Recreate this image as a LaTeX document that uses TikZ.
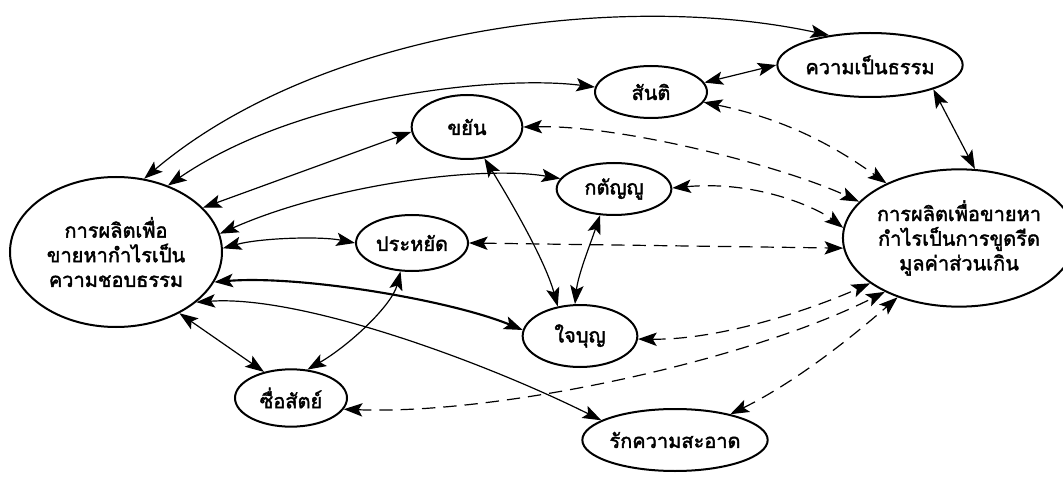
\documentclass[tikz,border=0pt]{standalone}
\usepackage{fontspec}
\newfontfamily\thai[Script=Thai,FakeBold=2]{Loma}
\usetikzlibrary{shapes.geometric,arrows.meta}
\tikzset{
  el/.style={ellipse, draw, line width=1.5pt, inner sep=0pt, align=center,
    font=\thai\fontsize{15}{18.5}\selectfont},
  con/.style={line width=0.9pt, {Stealth[length=14pt,width=10pt,inset=3pt]}-{Stealth[length=14pt,width=10pt,inset=3pt]}},
  dcon/.style={con, dash pattern=on 10pt off 6pt},
}
\begin{document}
\begin{tikzpicture}[x=0.75pt,y=-0.75pt]
\useasboundingbox (0,0) rectangle (1063,477);
\node[el, minimum width=159pt, minimum height=112.5pt] (L) at (116,252) {การผลิตเพื่อ\\ขายหากำไรเป็น\\ความชอบธรรม};
\node[el, minimum width=151.5pt, minimum height=103pt] (R) at (959,238) {การผลิตเพื่อขายหา\\กำไรเป็นการขูดรีด\\มูลค่าส่วนเกิน};
\node[el, minimum width=84pt, minimum height=39pt] (S) at (651,92) {สันติ};
\node[el, minimum width=139pt, minimum height=48pt] (KP) at (870,65) {ความเป็นธรรม};
\node[el, minimum width=83pt, minimum height=48pt] (K) at (467,127) {ขยัน};
\node[el, minimum width=86pt, minimum height=39pt] (G) at (614,189) {กตัญญู};
\node[el, minimum width=84pt, minimum height=42pt] (P) at (412,243) {ประหยัด};
\node[el, minimum width=86pt, minimum height=46.5pt] (J) at (580,336) {ใจบุญ};
\node[el, minimum width=84pt, minimum height=43pt] (Z) at (291,398) {ซื่อสัตย์};
\node[el, minimum width=124pt, minimum height=46.5pt] (Rk) at (675,440) {รักความสะอาด};
% solid connectors from L
\draw[con] (KP.144) .. controls (620,-10) and (320,30) .. (L.69);
\draw[con] (S.175) .. controls (500,75) and (300,95) .. (L.52);
\draw[con] (K.185) -- (L.27);
\draw[con] (G.169) .. controls (480,165) and (330,185) .. (L.10);
\draw[con] (P.180) .. controls (320,236) and (260,238) .. (L.2);
\draw[con, line width=1.6pt] (L.-17) .. controls (300,275) and (450,300) .. (J.174);
\draw[con] (L.-32) .. controls (300,295) and (480,360) .. (Rk.165);
\draw[con] (L.-44) -- (Z.136);
\draw[con] (P.248) .. controls (392,305) and (350,345) .. (Z.60);
% other solid
\draw[con] (S.10) -- (KP.180);
\draw[con] (KP.-21) -- (R.77);
\draw[con] (K.-61) .. controls (510,200) and (545,260) .. (J.127);
\draw[con] (G.-118) .. controls (590,245) and (578,275) .. (J.99);
% dashed to R
\draw[dcon] (S.-11) .. controls (790,120) and (840,150) .. (R.143);
\draw[dcon] (K.0) .. controls (620,125) and (780,165) .. (R.160);
\draw[dcon] (G.1) .. controls (760,180) and (820,210) .. (R.175);
\draw[dcon] (P.0) -- (R.-175);
\draw[dcon] (J.-3) .. controls (720,340) and (810,310) .. (R.-153);
\draw[dcon] (Z.-12) .. controls (500,415) and (750,360) .. (R.-144);
\draw[dcon] (Rk.25) .. controls (800,380) and (860,330) .. (R.-136);
\end{tikzpicture}
\end{document}
